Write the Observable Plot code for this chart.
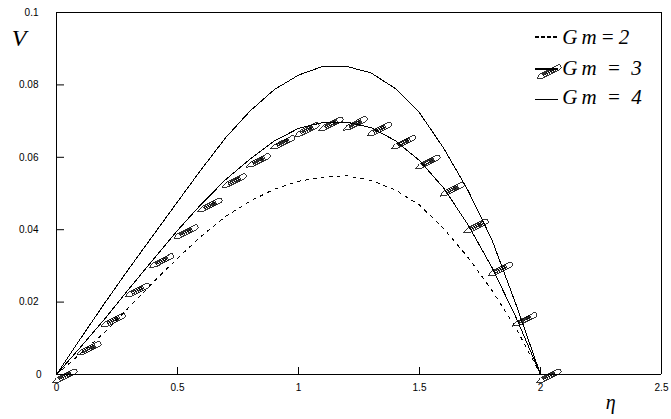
<!DOCTYPE html>
<html>
<head>
<meta charset="utf-8">
<script src="https://cdn.jsdelivr.net/npm/d3@7"></script>
<script src="https://cdn.jsdelivr.net/npm/@observablehq/plot@0.6"></script>
<style>
html,body{margin:0;padding:0;background:#fff}
svg{display:block;background:#fff}
.legend-text text{letter-spacing:4px;word-spacing:-3px}
</style>
</head>
<body>
<div id="chart"></div>
<script>
const eta = [0,0.1,0.2,0.3,0.4,0.5,0.6,0.7,0.8,0.9,1.0,1.1,1.2,1.3,1.4,1.5,1.6,1.7,1.8,1.9,2.0];
const gm2 = [0,0.0058,0.0117,0.0186,0.0255,0.0321,0.0383,0.0437,0.0479,0.0512,0.0534,0.0545,0.0549,0.0536,0.0510,0.0468,0.0403,0.0324,0.0232,0.0127,0];
const gm3 = [0,0.0076,0.0154,0.0237,0.0318,0.0398,0.0472,0.0539,0.0595,0.0645,0.068,0.0696,0.0697,0.0682,0.0646,0.0591,0.0515,0.0414,0.0295,0.0156,0];
const gm4 = [0,0.0100,0.0198,0.0293,0.0385,0.0477,0.0568,0.0655,0.0728,0.0787,0.0827,0.0851,0.0851,0.0833,0.079,0.0723,0.0625,0.0509,0.0371,0.0191,0];
const xTicks = [0,0.5,1,1.5,2,2.5];
const yTicks = [0.02,0.04,0.06,0.08,0.1];
const legendNames = ["Gm=2","Gm = 3","Gm = 4"];
const legendTextX = [2.09,2.09,2.09];
const legendTextY = [0.0913,0.0826,0.0746];
const legendLineX = [1.98,2.07];
const legendLineY = [0.0932,0.0844,0.0760];
const legendPencilX = [2.0];
const legendPencilY = [0.084];

const pts = s => eta.map((x,i)=>({x,y:s[i]}));
const seg = y => legendLineX.map(x=>({x,y}));

// Pencil marker: anchored on the data point, tip lower-left, eraser upper-right
const pencil = {
  draw(c){
    const ux=.89, uy=-.45, vx=.45, vy=.89;
    const P=(a,b)=>[-4+ux*a+vx*b, 8+uy*a+vy*b];
    const M=(a,b)=>c.moveTo(...P(a,b));
    const L=(a,b)=>c.lineTo(...P(a,b));
    M(0,0); L(6,-2.5); L(25,-2.5); L(27,-1.5); L(27,1.5); L(25,2.5); L(6,2.5); c.closePath();
    M(20.5,-2.5); L(20.5,2.5);
    for (const b of [-1,0.5]) { M(7,b); L(20,b); }
    for (const a of [8,10,12,14,16,17,18,19]) { M(a,-2.5); L(a,2.5); }
  }
};

const crisp = {shapeRendering:"crispEdges"};
const serif = {fontFamily:"Liberation Serif",fontStyle:"italic",fill:"black"};

const chart = Plot.plot({
  width:671, height:419,
  marginLeft:56, marginRight:10, marginTop:12, marginBottom:45,
  style:{fontFamily:"Liberation Sans",fontSize:"10px",background:"white",color:"black",overflow:"visible"},
  x:{domain:[0,2.5],label:null},
  y:{domain:[0,0.1],label:null},
  marks:[
    Plot.ruleX([0,2.5],{y1:0,y2:0.1,stroke:"black",...crisp}),
    Plot.ruleY([0,0.1],{x1:0,x2:2.5,stroke:"black",...crisp}),
    Plot.axisX({ticks:xTicks.slice(1,-1),tickSize:-7,tickFormat:()=>"",label:null}),
    Plot.axisY({ticks:yTicks.slice(0,-1),tickSize:-8,tickFormat:()=>"",label:null}),
    Plot.axisX({ticks:xTicks,tickSize:0,tickPadding:9,tickFormat:d=>String(d),fontSize:10,label:null}),
    Plot.axisY({ticks:yTicks,tickSize:0,tickPadding:18,tickFormat:d=>String(d),fontSize:10,label:null}),
    Plot.axisY({ticks:[0],tickSize:0,tickPadding:15,tickFormat:d=>String(d),fontSize:10,label:null}),
    Plot.line(pts(gm2),{x:"x",y:"y",stroke:"black",strokeWidth:1,strokeDasharray:"3,5",...crisp}),
    Plot.line(pts(gm3),{x:"x",y:"y",stroke:"black",strokeWidth:1,...crisp}),
    Plot.line(pts(gm4),{x:"x",y:"y",stroke:"black",strokeWidth:1,...crisp}),
    Plot.dot(pts(gm3),{x:"x",y:"y",symbol:pencil,r:5,stroke:"black",strokeWidth:0.8,fill:"none",...crisp}),
    Plot.line(seg(legendLineY[0]),{x:"x",y:"y",stroke:"black",strokeDasharray:"3,3",...crisp}),
    Plot.line(seg(legendLineY[1]),{x:"x",y:"y",stroke:"black",...crisp}),
    Plot.line(seg(legendLineY[2]),{x:"x",y:"y",stroke:"black",...crisp}),
    Plot.dot(legendPencilX.map((x,i)=>({x,y:legendPencilY[i]})),{x:"x",y:"y",symbol:pencil,r:5,stroke:"black",strokeWidth:0.8,fill:"none",...crisp}),
    Plot.text(legendNames,{x:(d,i)=>legendTextX[i],y:(d,i)=>legendTextY[i],text:d=>d,textAnchor:"start",lineAnchor:"bottom",fontSize:21,...serif,className:"legend-text"}),
    Plot.text(["V"],{x:[-0.155],y:[0.0929],fontSize:24,...serif}),
    Plot.text(["η"],{x:[2.29],y:[-0.0077],fontSize:20,...serif})
  ]
});
document.getElementById("chart").append(chart);
</script>
</body>
</html>
